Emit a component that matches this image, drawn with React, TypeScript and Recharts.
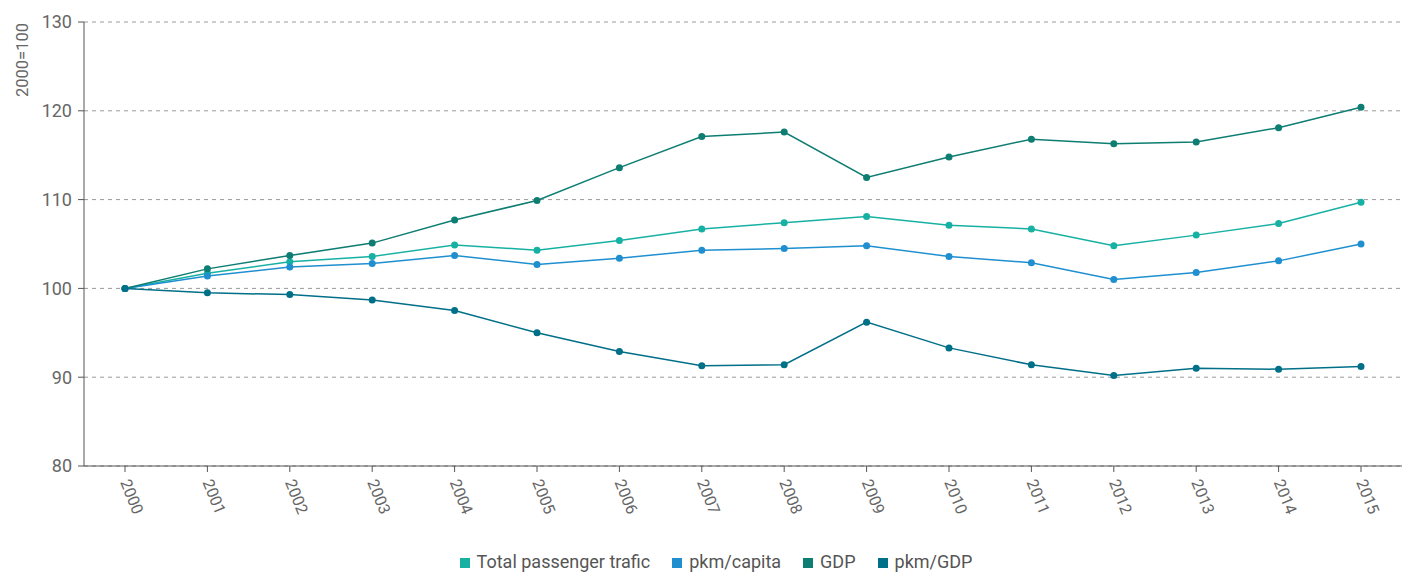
import React from 'react';
import { LineChart, Line, XAxis, YAxis, CartesianGrid, Legend } from 'recharts';

const years = ['2000', '2001', '2002', '2003', '2004', '2005', '2006', '2007', '2008', '2009', '2010', '2011', '2012', '2013', '2014', '2015'];
const totalTraffic = [100, 101.7, 103.0, 103.6, 104.9, 104.3, 105.4, 106.7, 107.4, 108.1, 107.1, 106.7, 104.8, 106.0, 107.3, 109.7];
const pkmCapita = [100, 101.4, 102.4, 102.8, 103.7, 102.7, 103.4, 104.3, 104.5, 104.8, 103.6, 102.9, 101.0, 101.8, 103.1, 105.0];
const gdp = [100, 102.2, 103.7, 105.1, 107.7, 109.9, 113.6, 117.1, 117.6, 112.5, 114.8, 116.8, 116.3, 116.5, 118.1, 120.4];
const pkmGdp = [100, 99.5, 99.3, 98.7, 97.5, 95.0, 92.9, 91.3, 91.4, 96.2, 93.3, 91.4, 90.2, 91.0, 90.9, 91.2];
const yTicks = [80, 90, 100, 110, 120, 130];

const series = [
  { key: 'total', name: 'Total passenger trafic', color: '#17b1a3' },
  { key: 'capita', name: 'pkm/capita', color: '#1f8fd0' },
  { key: 'gdp', name: 'GDP', color: '#0e7d72' },
  { key: 'pkmGdp', name: 'pkm/GDP', color: '#006f88' },
];

const data = years.map((year, i) => ({
  year,
  total: totalTraffic[i],
  capita: pkmCapita[i],
  gdp: gdp[i],
  pkmGdp: pkmGdp[i],
}));

const FONT = 'Roboto, "Noto Sans", sans-serif';

// rotated year labels under the x axis
function YearTick(props: any) {
  const { x, y, payload } = props;
  return (
    <g transform={`translate(${x},${y + 6})`}>
      <text transform="rotate(68)" textAnchor="start" dominantBaseline="central" fill="#666" fontSize={16} fontFamily={FONT}>
        {payload.value}
      </text>
    </g>
  );
}

// the "2000=100" note sits near the top of the y axis, not centred
function IndexLabel() {
  return (
    <text x={22} y={60} transform="rotate(-90 22 60)" textAnchor="middle" dominantBaseline="central" fill="#666" fontSize={16.5} fontFamily={FONT}>
      2000=100
    </text>
  );
}

export default function App() {
  return (
    <div style={{ position: 'absolute', left: 0, top: 0, width: 1414, height: 574, background: '#fff' }}>
      <LineChart width={1414} height={574} data={data} margin={{ top: 22, right: 12, bottom: 2, left: 24 }}>
        <CartesianGrid vertical={false} stroke="#9a9a9a" strokeDasharray="4 4" />
        <XAxis
          dataKey="year"
          padding={{ left: 41, right: 41 }}
          height={85}
          interval={0}
          stroke="#555"
          tickLine={{ stroke: '#555' }}
          tickSize={6}
          tick={<YearTick />}
        />
        <YAxis
          domain={[80, 130]}
          ticks={yTicks}
          width={60}
          stroke="#555"
          tickSize={6}
          tick={{ fill: '#666', fontSize: 18, fontFamily: FONT, dx: -4 }}
          label={{ content: () => <IndexLabel /> }}
        />
        <Legend
          verticalAlign="bottom"
          iconType="square"
          iconSize={10}
          itemSorter={(item: any) => series.findIndex((s) => s.key === item.dataKey)}
          wrapperStyle={{ fontFamily: FONT, fontSize: 18, color: '#555', paddingLeft: 14 }}
          formatter={(value: string) => <span style={{ color: '#555', marginLeft: 3, marginRight: 12 }}>{value}</span>}
        />
        {series.map((s) => (
          <Line
            key={s.key}
            dataKey={s.key}
            name={s.name}
            stroke={s.color}
            strokeWidth={1.5}
            dot={{ r: 3.5, fill: s.color, stroke: s.color, strokeWidth: 0 }}
            activeDot={false}
            isAnimationActive={false}
          />
        ))}
      </LineChart>
    </div>
  );
}
